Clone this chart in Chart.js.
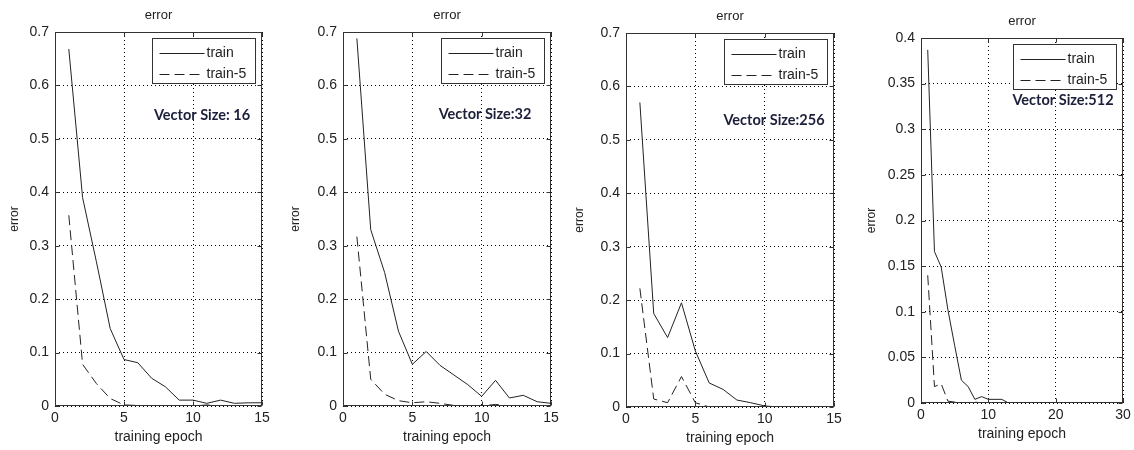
<!DOCTYPE html>
<html>
<head>
<meta charset="utf-8">
<script src="https://cdn.jsdelivr.net/npm/chart.js@4"></script>
<style>
  body { margin: 0; background: #fff; }
  .panel { position: absolute; top: 0; }
</style>
</head>
<body>
<div id="wrap" style="position:relative;width:1134px;height:450px;"></div>
<script>
// Données
const epochs16 = [1, 2, 3, 4, 5, 6, 7, 8, 9, 10, 11, 12, 13, 14, 15];
const train16 = [0.668, 0.39, 0.27, 0.145, 0.087, 0.081, 0.052, 0.036, 0.011, 0.011, 0.005, 0.011, 0.005, 0.006, 0.006];
const train5_16 = [0.357, 0.078, 0.042, 0.014, 0.002, 0.001, 0, 0.001, 0, 0, 0.002, 0, 0, 0, 0];

const epochs32 = [1, 2, 3, 4, 5, 6, 7, 8, 9, 10, 11, 12, 13, 14, 15];
const train32 = [0.688, 0.33, 0.25, 0.14, 0.078, 0.102, 0.076, 0.058, 0.04, 0.018, 0.048, 0.015, 0.02, 0.008, 0.005];
const train5_32 = [0.317, 0.05, 0.022, 0.01, 0.006, 0.008, 0.005, 0.001, 0, 0, 0.003, 0, 0, 0, 0];

const epochs256 = [1, 2, 3, 4, 5, 6, 7, 8, 9, 10, 11];
const train256 = [0.57, 0.175, 0.13, 0.195, 0.105, 0.045, 0.033, 0.013, 0.008, 0.002, 0];
const train5_256 = [0.222, 0.015, 0.008, 0.057, 0.008, 0, 0.001, 0.001, 0, 0, 0];

const epochs512 = [1, 2, 3, 4, 5, 6, 7, 8, 9, 10, 11, 12, 13];
const train512 = [0.387, 0.166, 0.149, 0.102, 0.063, 0.025, 0.018, 0.004, 0.007, 0.004, 0.004, 0.004, 0];
const train5_512 = [0.14, 0.018, 0.021, 0.002, 0.001, 0, 0, 0.001, 0, 0, 0, 0, 0];

const seriesLabels = ['train', 'train-5'];
const titleText = 'error';
const xTitle = 'training epoch';
const yTitle = 'error';

// Mise en page de chaque sous-graphique
const panels = [
  {epochs: epochs16, a: train16, b: train5_16, xMax: 15, xStep: 5, yMax: 0.7, yStep: 0.1,
   note: 'Vector Size: 16', noteDx: 60, noteY: 115, left: 55, right: 262, top: 32, bottom: 406, yLab: 40},
  {epochs: epochs32, a: train32, b: train5_32, xMax: 15, xStep: 5, yMax: 0.7, yStep: 0.1,
   note: 'Vector Size:32', noteDx: 66, noteY: 114, left: 343, right: 551, top: 32, bottom: 406, yLab: 47},
  {epochs: epochs256, a: train256, b: train5_256, xMax: 15, xStep: 5, yMax: 0.7, yStep: 0.1,
   note: 'Vector Size:256', noteDx: 60, noteY: 120, left: 626, right: 834, top: 33, bottom: 407, yLab: 46},
  {epochs: epochs512, a: train512, b: train5_512, xMax: 30, xStep: 10, yMax: 0.4, yStep: 0.05,
   note: 'Vector Size:512', noteDx: 60, noteY: 100, left: 921, right: 1123, top: 38, bottom: 403, yLab: 49}
];

const AXIS_W = 55, AXIS_H = 40, RIGHT = 14;
const INK = '#222';
const FONT = 'Liberation Sans, Arial, sans-serif';
const DASH = [10, 5];

// Cadre, petites graduations, titre, légende et annotation
const matlabPlugin = {
  id: 'matlab',
  afterDraw(chart, args, opts) {
    const {ctx, chartArea: a, scales: {x, y}} = chart;
    ctx.save();
    ctx.strokeStyle = '#333';
    ctx.lineWidth = 1;
    ctx.setLineDash([]);
    const L = Math.round(a.left) + 0.5, R = Math.round(a.right) - 0.5;
    const T = Math.round(a.top) + 0.5, B = Math.round(a.bottom) - 0.5;
    ctx.strokeRect(L, T, R - L, B - T);

    ctx.beginPath();
    y.ticks.forEach(t => {
      const py = Math.round(y.getPixelForValue(t.value)) + 0.5;
      ctx.moveTo(L, py); ctx.lineTo(L + 4, py);
      ctx.moveTo(R, py); ctx.lineTo(R - 4, py);
    });
    x.ticks.forEach(t => {
      const px = Math.round(x.getPixelForValue(t.value)) + 0.5;
      ctx.moveTo(px, B); ctx.lineTo(px, B - 4);
      ctx.moveTo(px, T); ctx.lineTo(px, T + 4);
    });
    ctx.stroke();

    // titre
    ctx.fillStyle = INK;
    ctx.font = '13px ' + FONT;
    ctx.textAlign = 'center';
    ctx.textBaseline = 'middle';
    ctx.fillText(titleText, (a.left + a.right) / 2, a.top - 17);

    // légende
    const bw = 103, bh = 45;
    const bx = Math.round(a.right - 7 - bw) + 0.5, by = Math.round(a.top + 6) + 0.5;
    ctx.fillStyle = '#fff';
    ctx.fillRect(bx, by, bw, bh);
    ctx.strokeStyle = '#333';
    ctx.strokeRect(bx, by, bw, bh);
    ctx.font = '14px ' + FONT;
    ctx.textAlign = 'left';
    chart.data.datasets.forEach((ds, i) => {
      const ly = Math.round(by + 14 + i * 21) + 0.5;
      ctx.strokeStyle = ds.borderColor;
      ctx.setLineDash(ds.borderDash || []);
      ctx.beginPath();
      ctx.moveTo(bx + 7, ly); ctx.lineTo(bx + 52, ly);
      ctx.stroke();
      ctx.setLineDash([]);
      ctx.fillStyle = INK;
      ctx.fillText(ds.label, bx + 54, ly);
    });

    // annotation
    ctx.fillStyle = '#1c1f3a';
    ctx.font = 'bold 14.5px Lato, "Open Sans", sans-serif';
    ctx.textAlign = 'center';
    ctx.fillText(opts.note, a.right - opts.noteDx, opts.noteY);
    ctx.restore();
  }
};

function fmt(v) {
  return String(Number(v.toFixed(2)));
}

const wrap = document.getElementById('wrap');
panels.forEach(p => {
  const canvas = document.createElement('canvas');
  const w = p.right - p.left + AXIS_W + RIGHT;
  canvas.width = w;
  canvas.height = 450;
  canvas.className = 'panel';
  canvas.style.left = (p.left - AXIS_W) + 'px';
  wrap.appendChild(canvas);

  const lh = 12 * 1.2;
  new Chart(canvas, {
    type: 'line',
    data: {
      datasets: [{
        label: seriesLabels[0],
        data: p.epochs.map((e, i) => ({x: e, y: p.a[i]})),
        borderColor: INK,
        borderWidth: 1,
        pointRadius: 0,
        tension: 0,
        fill: false
      }, {
        label: seriesLabels[1],
        data: p.epochs.map((e, i) => ({x: e, y: p.b[i]})),
        borderColor: INK,
        borderWidth: 1,
        borderDash: DASH,
        pointRadius: 0,
        tension: 0,
        fill: false
      }]
    },
    options: {
      responsive: false,
      animation: false,
      events: [],
      layout: {padding: {left: 0, right: RIGHT, top: p.top, bottom: 450 - p.bottom - AXIS_H}},
      plugins: {
        legend: {display: false},
        title: {display: false},
        tooltip: {enabled: false},
        matlab: {note: p.note, noteDx: p.noteDx, noteY: p.noteY}
      },
      scales: {
        x: {
          type: 'linear', min: 0, max: p.xMax,
          ticks: {stepSize: p.xStep, padding: 4, color: INK, font: {family: FONT, size: 14}, maxRotation: 0},
          grid: {color: '#000', drawTicks: false},
          border: {display: false, dash: [1, 3]},
          title: {display: true, text: xTitle, color: INK, font: {family: FONT, size: 14}, padding: {top: 5, bottom: 0}},
          afterFit(s) { s.height = AXIS_H; s.paddingLeft = 0; s.paddingRight = 0; }
        },
        y: {
          min: 0, max: p.yMax,
          ticks: {stepSize: p.yStep, padding: 6, color: INK, font: {family: FONT, size: 14}, callback: fmt},
          grid: {color: '#000', drawTicks: false},
          border: {display: false, dash: [1, 3]},
          title: {display: true, text: yTitle, color: INK, font: {family: FONT, size: 12},
                  padding: {top: AXIS_W - p.yLab - lh / 2, bottom: 0}},
          afterFit(s) { s.width = AXIS_W; s.paddingTop = 0; s.paddingBottom = 0; }
        }
      }
    },
    plugins: [matlabPlugin]
  });
});
</script>
</body>
</html>
